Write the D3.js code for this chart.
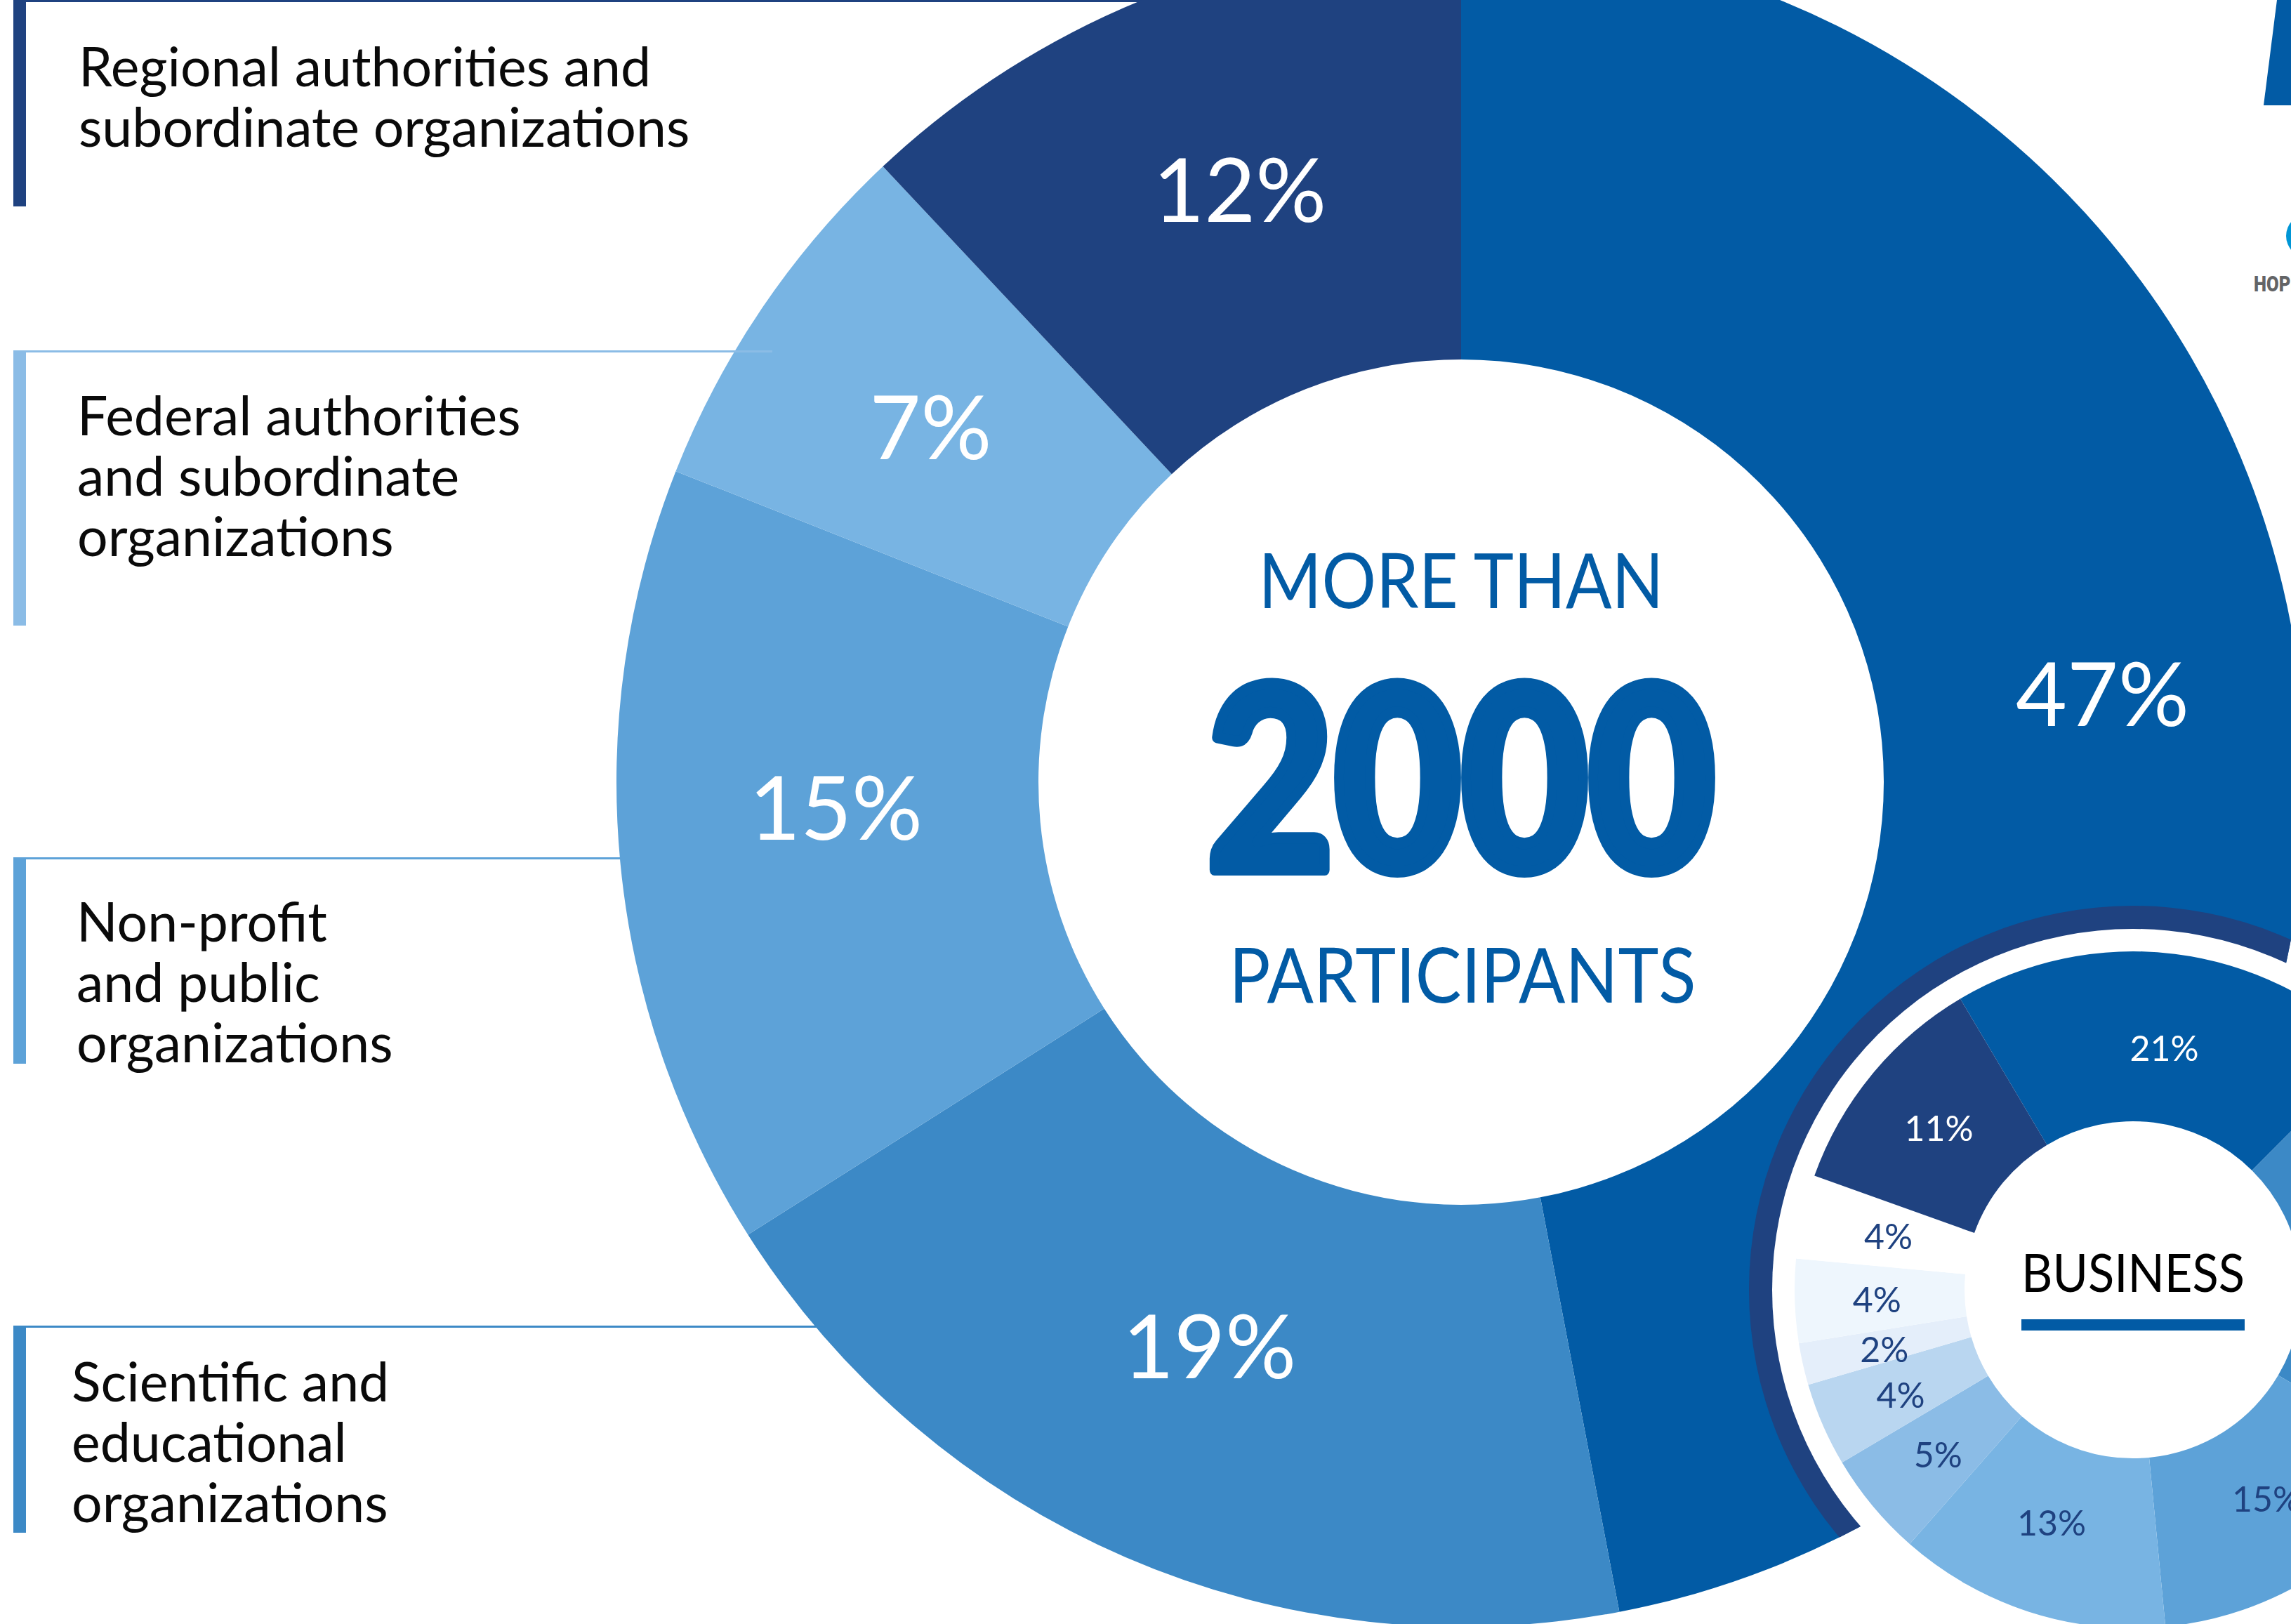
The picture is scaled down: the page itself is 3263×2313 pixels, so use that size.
<!DOCTYPE html>
<html>
<head>
<meta charset="utf-8">
<script src="https://cdn.jsdelivr.net/npm/d3@7"></script>
<style>
  html, body { margin: 0; padding: 0; background: #fff; }
  svg { display: block; }
</style>
</head>
<body>
<svg id="chart" width="3263" height="2313"></svg>
<script>
// --- data ---
const mainCategories = ['Business', 'Scientific and educational', 'Non-profit and public', 'Federal authorities', 'Regional authorities'];
const mainShares = [47, 19, 15, 7, 12];

const legendLines = [
    ['Regional authorities and', 'subordinate organizations'],
    ['Federal authorities', 'and subordinate', 'organizations'],
    ['Non-profit', 'and public', 'organizations'],
    ['Scientific and', 'educational', 'organizations']
];

// business breakdown, clockwise from the 21% slice at the top
const businessShares = [21, 21, 15, 13, 5, 4, 2, 4, 4, 11];
const businessLabels = ['21%', '21%', '15%', '13%', '5%', '4%', '2%', '4%', '4%', '11%'];

const centerTop = 'MORE THAN';
const centerNumber = '2000';
const centerBottom = 'PARTICIPANTS';
const businessTitle = 'BUSINESS';

// --- layout / style ---
const W = 3263, H = 2313;
const main = { cx: 2081, cy: 1114, r0: 602, r1: 1203 };
const biz = { cx: 3038, cy: 1837, r0: 240, r1: 482, gap: 514, ring: 547, start: -30.7 };
const blue = '#025ba5', navy = '#1f4280';

const mainColor = d3.scaleOrdinal()
    .domain(mainCategories)
    .range([blue, '#3c89c6', '#5da2d8', '#78b4e3', navy]);

const bizColor = d3.scaleOrdinal()
    .domain(d3.range(businessShares.length))
    .range([blue, '#3c89c6', '#5da2d8', '#78b4e3', '#8bbce6', '#b9d6f0', '#e4eefa', '#eef6fd', '#ffffff', navy]);

// small hand offsets of the percent labels from the slice centroids
const mainNudge = [[15, -40], [0, -25], [8, -48], [-9, 2], [17, -4]];
const bizNudge = [[0, 14], [0, 0], [-4, -6], [-5, -12], [0, 4], [0, 6], [-2, 6], [-4, 2], [4, 2], [2, 0]];

// legend blocks, top to bottom
const legendLayout = [
    { y: 0, h: 294, color: navy, lineEnd: 1700, tx: 112, ty: 123, under: true },
    { y: 499, h: 392, color: '#8bbce6', lineEnd: 1100, tx: 110, ty: 620, under: false },
    { y: 1221, h: 294, color: '#5da2d8', lineEnd: 900, tx: 109, ty: 1341, under: true },
    { y: 1888, h: 295, color: '#3c89c6', lineEnd: 1200, tx: 102, ty: 1996, under: true }
];
const lineStep = 86;
const textFont = 'Lato, "Open Sans", sans-serif';

const svg = d3.select('#chart');
svg.append('rect').attr('width', W).attr('height', H).attr('fill', '#fff');

const defs = svg.append('defs');
defs.append('clipPath').attr('id', 'mainClip')
    .append('circle')
    .attr('cx', main.cx).attr('cy', main.cy).attr('r', main.r1);

function drawLegendLine(g, d) {
    g.append('line')
        .attr('x1', 19).attr('x2', d.lineEnd)
        .attr('y1', d.y + 1.5).attr('y2', d.y + 1.5)
        .attr('stroke', d.color)
        .attr('stroke-width', 3);
}
// legend lines that sit under the donut
const under = svg.append('g');
legendLayout.filter(d => d.under).forEach(d => drawLegendLine(under, d));

// --- main donut ---
const mainPie = d3.pie().sort(null).value(d => d)(mainShares);
const mainArc = d3.arc().innerRadius(main.r0).outerRadius(main.r1);

const mainG = svg.append('g').attr('transform', `translate(${main.cx},${main.cy})`);
mainG.selectAll('path')
    .data(mainPie)
    .join('path')
    .attr('d', mainArc)
    .attr('fill', (d, i) => mainColor(mainCategories[i]));

mainG.selectAll('text')
    .data(mainPie)
    .join('text')
    .attr('transform', (d, i) => {
        const [x, y] = mainArc.centroid(d);
        return `translate(${x + mainNudge[i][0]},${y + mainNudge[i][1]})`;
    })
    .attr('text-anchor', 'middle')
    .attr('dy', '0.36em')
    .style('font-family', textFont)
    .style('font-size', '126px')
    .style('fill', '#fff')
    .text(d => d.data + '%');

// the federal line runs a little way over the donut
const over = svg.append('g');
legendLayout.filter(d => !d.under).forEach(d => drawLegendLine(over, d));

// legend bars and texts
const legend = svg.append('g');
legendLayout.forEach((d, i) => {
    legend.append('rect')
        .attr('x', 19).attr('y', d.y)
        .attr('width', 18).attr('height', d.h)
        .attr('fill', d.color);
    legend.append('g')
        .selectAll('text')
        .data(legendLines[i])
        .join('text')
        .attr('x', d.tx)
        .attr('y', (t, j) => d.ty + j * lineStep)
        .style('font-family', textFont)
        .style('font-size', '77px')
        .style('fill', '#0a0a0a')
        .text(t => t);
});

// center text
const center = svg.append('g').attr('text-anchor', 'middle').style('fill', blue);
center.append('text')
    .attr('x', main.cx).attr('y', 866)
    .attr('textLength', 577).attr('lengthAdjust', 'spacingAndGlyphs')
    .style('font-family', textFont)
    .style('font-size', '109px')
    .text(centerTop);
center.append('text')
    .attr('x', main.cx).attr('y', 1239)
    .attr('textLength', 724).attr('lengthAdjust', 'spacingAndGlyphs')
    .style('font-family', 'Lato, "Liberation Sans", sans-serif')
    .style('font-weight', 900)
    .style('font-size', '362px')
    .style('stroke', blue)
    .style('stroke-width', 16)
    .style('stroke-linejoin', 'round')
    .text(centerNumber);
center.append('text')
    .attr('x', main.cx + 2).attr('y', 1428)
    .attr('textLength', 665).attr('lengthAdjust', 'spacingAndGlyphs')
    .style('font-family', textFont)
    .style('font-size', '108px')
    .text(centerBottom);

// --- business donut ---
svg.append('circle')
    .attr('cx', biz.cx).attr('cy', biz.cy).attr('r', biz.ring)
    .attr('fill', navy)
    .attr('clip-path', 'url(#mainClip)');
svg.append('circle')
    .attr('cx', biz.cx).attr('cy', biz.cy).attr('r', biz.gap)
    .attr('fill', '#fff');

const a0 = biz.start * Math.PI / 180;
const bizPie = d3.pie().sort(null).value(d => d)
    .startAngle(a0).endAngle(a0 + 2 * Math.PI)(businessShares);
const bizArc = d3.arc().innerRadius(biz.r0).outerRadius(biz.r1);

const bizG = svg.append('g').attr('transform', `translate(${biz.cx},${biz.cy})`);
bizG.selectAll('path')
    .data(bizPie)
    .join('path')
    .attr('d', bizArc)
    .attr('fill', (d, i) => bizColor(i));

// labels whose slice lies off the page are not drawn
const bizLabelData = bizPie
    .map((d, i) => ({ d, i, c: bizArc.centroid(d) }))
    .filter(o => biz.cx + o.c[0] < W - 20);

bizG.selectAll('text')
    .data(bizLabelData)
    .join('text')
    .attr('transform', o => `translate(${o.c[0] + bizNudge[o.i][0]},${o.c[1] + bizNudge[o.i][1]})`)
    .attr('text-anchor', 'middle')
    .attr('dy', '0.36em')
    .style('font-family', textFont)
    .style('font-size', '50px')
    .style('fill', o => (o.i === 0 || o.i === businessShares.length - 1) ? '#fff' : navy)
    .text(o => businessLabels[o.i]);

svg.append('text')
    .attr('x', biz.cx).attr('y', 1840)
    .attr('text-anchor', 'middle')
    .attr('textLength', 318).attr('lengthAdjust', 'spacingAndGlyphs')
    .style('font-family', textFont)
    .style('font-size', '76px')
    .style('fill', '#000')
    .text(businessTitle);
svg.append('rect')
    .attr('x', biz.cx - 159).attr('y', 1879)
    .attr('width', 318).attr('height', 16)
    .attr('fill', blue);

// --- bits of the neighbouring page at the right edge ---
svg.append('path')
    .attr('d', d3.line()([[3243, 0], [3263, 0], [3263, 150], [3224, 150]]) + 'Z')
    .attr('fill', blue);
svg.append('circle')
    .attr('cx', 3287).attr('cy', 336).attr('r', 31)
    .attr('fill', '#0096d6');
svg.append('text')
    .attr('x', 3210).attr('y', 415)
    .attr('transform', 'translate(3210,0) scale(0.8,1) translate(-3210,0)')
    .style('font-family', 'Roboto, "Liberation Sans", sans-serif')
    .style('font-weight', 900)
    .style('font-size', '32px')
    .style('fill', '#636466')
    .text('НОРНИКЕЛЬ');
</script>
</body>
</html>
